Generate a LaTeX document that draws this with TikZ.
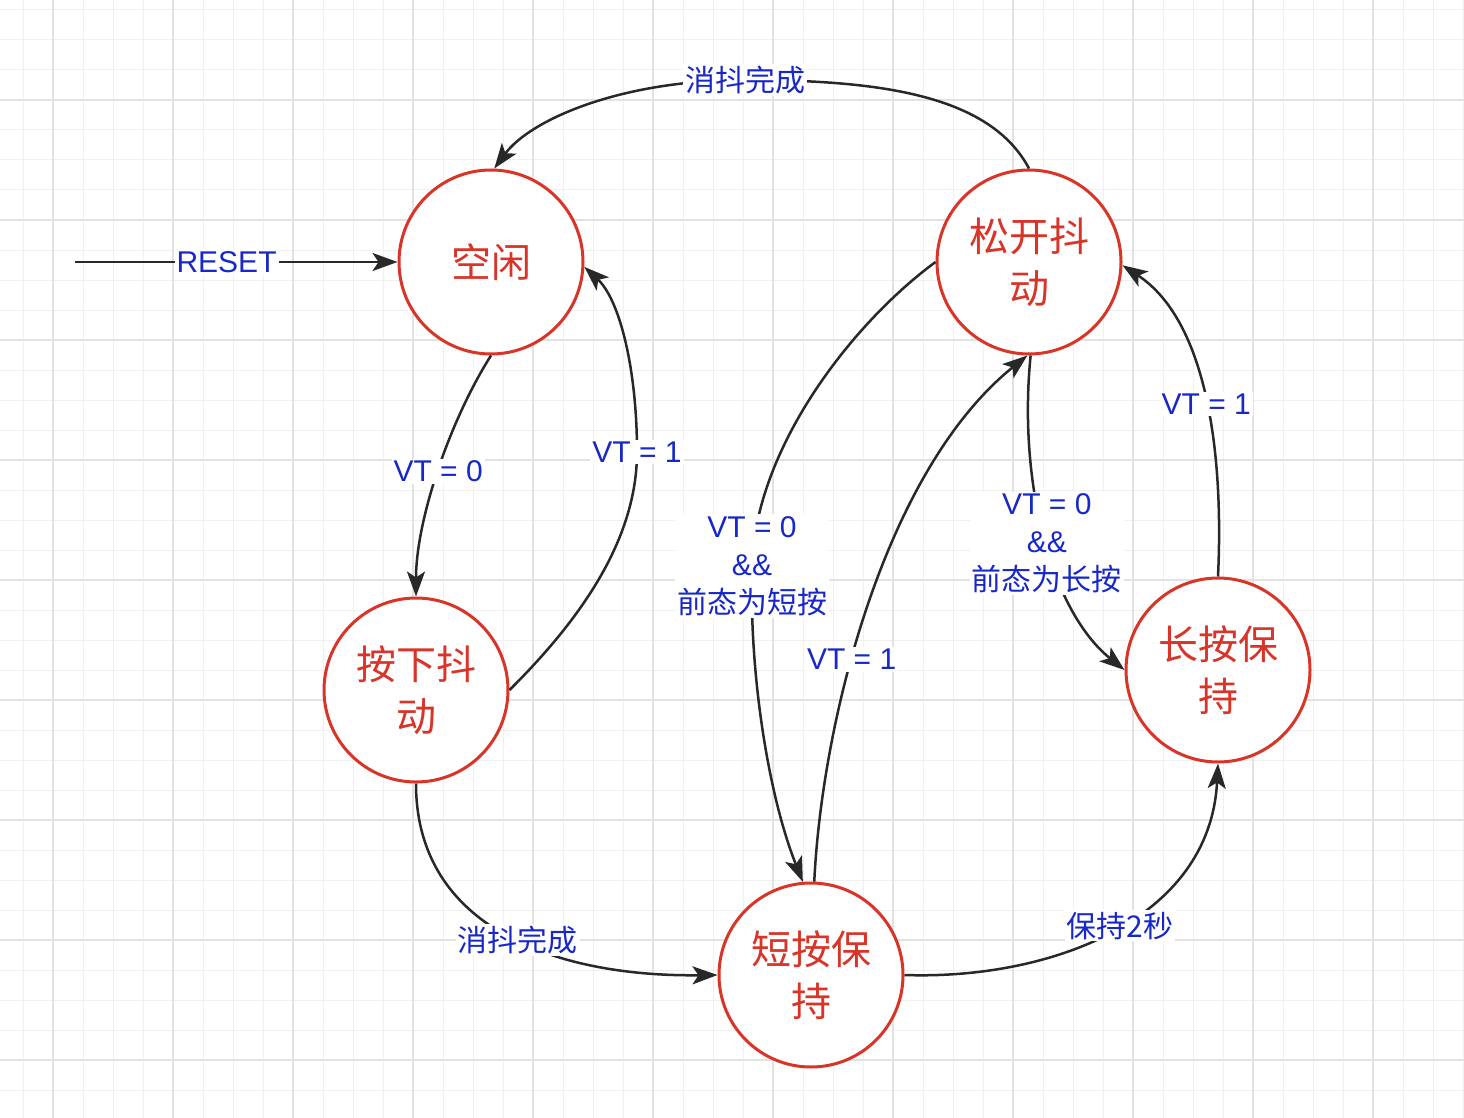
\documentclass[tikz,border=0pt]{standalone}
\usepackage{fontspec}
\setmainfont{Liberation Sans}
\newfontfamily\cjk{Noto Sans CJK SC}
\usetikzlibrary{arrows.meta}

\definecolor{statered}{RGB}{216,52,40}
\definecolor{labelblue}{RGB}{24,40,200}
\definecolor{edgegray}{RGB}{40,40,40}
\definecolor{gridminor}{RGB}{240,240,240}
\definecolor{gridmajor}{RGB}{226,226,226}

\tikzset{
  state/.style={circle, draw=statered, line width=3pt, fill=white,
    minimum size=184pt, inner sep=0pt, text=statered,
    font=\cjk\fontsize{40}{52}\selectfont, align=center},
  edge/.style={draw=edgegray, line width=2.5pt,
    -{Stealth[length=25pt,width=18pt,inset=6pt]}},
  lbl/.style={fill=white, text=labelblue,
    font=\fontsize{30}{38}\selectfont, align=center, inner sep=2pt},
}

\begin{document}
\begin{tikzpicture}[x=1pt,y=-1pt]
  % canvas and background grid
  \useasboundingbox (0,0) rectangle (1464,1118);
  \fill[white] (0,0) rectangle (1464,1118);
  \foreach \x in {23,53,...,1463} \draw[gridminor, line width=1pt] (\x,0) -- (\x,1118);
  \foreach \y in {10,40,...,1117} \draw[gridminor, line width=1pt] (0,\y) -- (1464,\y);
  \foreach \x in {53,173,...,1463} \draw[gridmajor, line width=1.4pt] (\x,0) -- (\x,1118);
  \foreach \y in {100,220,...,1117} \draw[gridmajor, line width=1.4pt] (0,\y) -- (1464,\y);

  % states
  \node[state] (idle)      at (491,262) {空闲};
  \node[state] (releasedb) at (1029,262) {松开抖\\动};
  \node[state] (pressdb)   at (416,690) {按下抖\\动};
  \node[state] (longhold)  at (1218,670) {长按保\\持};
  \node[state] (shorthold) at (811,975) {短按保\\持};

  % reset entry
  \coordinate (rst) at (75,262);
  \draw[edge] (rst) -- (idle) node[lbl, pos=0.47] {RESET};

  % transitions
  \draw[edge] (releasedb.north) .. controls (990,95) and (880,80) .. (745,80)
    node[lbl] {\cjk 消抖完成}
    .. controls (620,80) and (530,120) .. (idle.88);

  \draw[edge] (idle.south) .. controls (450,420) and (416,520) .. (pressdb.north)
    node[lbl, pos=0.5] {VT = 0};

  \draw[edge] (pressdb.east) .. controls (580,620) and (637,540) .. (637,452)
    node[lbl] {VT = 1}
    .. controls (637,370) and (620,300) .. (idle.-3);

  \draw[edge] (pressdb.south) .. controls (416,930) and (560,977) .. (shorthold.west)
    node[lbl, pos=0.53] {\cjk 消抖完成};

  \draw[edge] (releasedb.west) .. controls (850,325) and (755,450) .. (752,566)
    node[lbl] {VT = 0\\\&\&\\{\cjk 前态为短按}}
    .. controls (749,680) and (770,800) .. (shorthold.95);

  \draw[edge] (shorthold.88) .. controls (822,720) and (885,470) .. (releasedb.-91)
    node[lbl, pos=0.4] {VT = 1};

  \draw[edge] (releasedb.-89) .. controls (1018,480) and (1050,610) .. (longhold.west)
    node[lbl, pos=0.52] {VT = 0\\\&\&\\{\cjk 前态为长按}};

  \draw[edge] (longhold.north) .. controls (1224,450) and (1206,320) .. (releasedb.-2)
    node[lbl, pos=0.47] {VT = 1};

  \draw[edge] (shorthold.east) .. controls (1050,980) and (1210,920) .. (longhold.south)
    node[lbl, pos=0.52] {\cjk 保持2秒};
\end{tikzpicture}
\end{document}
